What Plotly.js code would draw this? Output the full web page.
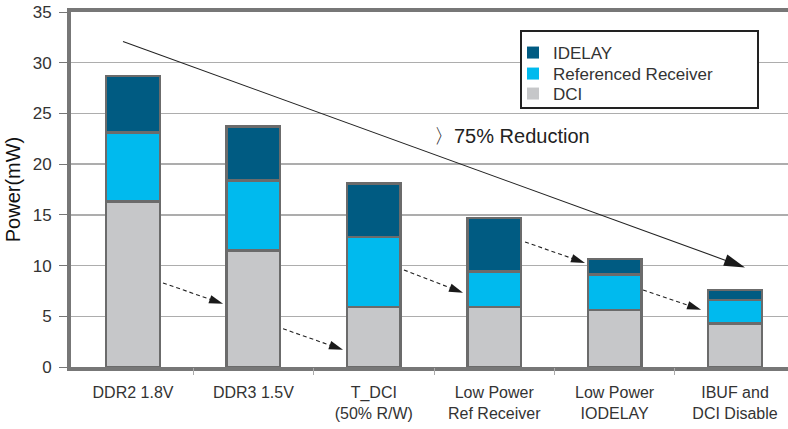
<!DOCTYPE html>
<html>
<head>
<meta charset="utf-8">
<script src="https://cdn.plot.ly/plotly-3.0.1.min.js"></script>
<style>html,body{margin:0;padding:0;background:#fff;}#chart{width:788px;height:429px;}</style>
</head>
<body>
<div id="chart"></div>
<script>
// ---- data ----
const categories = ["DDR2 1.8V", "DDR3 1.5V", "T_DCI<br>(50% R/W)", "Low Power<br>Ref Receiver", "Low Power<br>IODELAY", "IBUF and<br>DCI Disable"];
const dci      = [16.3, 11.5, 5.9, 5.9, 5.6, 4.3];
const refRecv  = [6.8, 6.9, 6.9, 3.5, 3.5, 2.3];
const idelay   = [5.6, 5.3, 5.3, 5.3, 1.55, 1.0];
const seriesNames = ["DCI", "Referenced Receiver", "IDELAY"];
const yTicks = [0, 5, 10, 15, 20, 25, 30, 35];
const noteText = "〉75% Reduction";
const noteAt = [3.15, 22.77];
// arrows: [x0, y0, x1, y1] in category-index / data units
const solidArrow = [-0.083, 32.1, 5.083, 9.82];
const dashedArrows = [
  [0.249, 8.29, 0.748, 6.23],
  [1.246, 3.77, 1.744, 1.70],
  [2.25, 9.57, 2.741, 7.31],
  [3.256, 12.33, 3.754, 10.26],
  [4.236, 7.60, 4.718, 5.64]
];

// ---- styles ----
const colors = ["#c6c7c9", "#00baee", "#005b82"];
const W = 788, H = 429;
const M = {l: 71, r: 0, t: 12, b: 62, pad: 0};
const PW = W - M.l - M.r, PH = H - M.t - M.b;
const xRange = [-0.515, 5.44], yRange = [0, 35];
const FONT = "Liberation Sans, Arial, sans-serif";

function pxX(xd) { return (xd - xRange[0]) / (xRange[1] - xRange[0]) * PW; }
function pxY(yd) { return (yd - yRange[0]) / (yRange[1] - yRange[0]) * PH; }

const shapes = [];
function addArrow(a, dashed, headLen, headHalf) {
  const x0 = pxX(a[0]), y0 = pxY(a[1]), x1 = pxX(a[2]), y1 = pxY(a[3]);
  const dx = x1 - x0, dy = y1 - y0, L = Math.hypot(dx, dy);
  const ux = dx / L, uy = dy / L, nx = -uy, ny = ux;
  const bx = x1 - ux * headLen, by = y1 - uy * headLen;
  shapes.push({type: "line", xref: "paper", yref: "paper",
    x0: x0 / PW, y0: y0 / PH, x1: (bx + ux * 2) / PW, y1: (by + uy * 2) / PH,
    line: {color: "#222", width: 1.1, dash: dashed ? "4px,3px" : "solid"}, layer: "above"});
  const p = [[x1, y1], [bx + nx * headHalf, by + ny * headHalf], [bx - nx * headHalf, by - ny * headHalf]];
  shapes.push({type: "path", xref: "paper", yref: "paper",
    path: "M" + p.map(q => (q[0] / PW).toFixed(5) + "," + (q[1] / PH).toFixed(5)).join("L") + "Z",
    fillcolor: "#1a1a1a", line: {width: 0}, layer: "above"});
}
addArrow(solidArrow, false, 21, 6);
dashedArrows.forEach(a => addArrow(a, true, 14, 4.3));

// legend frame
shapes.push({type: "rect", xref: "paper", yref: "paper",
  x0: (521 - M.l) / PW, x1: (758 - M.l) / PW, y0: (H - M.b - 108) / PH, y1: (H - M.b - 31) / PH,
  fillcolor: "#fff", line: {color: "#222", width: 2}, layer: "above"});

const vals = [dci, refRecv, idelay];
const legendIds = ["legend3", "legend2", "legend"];
const legendRowY = [94, 74, 53];
const traces = [];
vals.forEach((v, i) => {
  traces.push({type: "bar", x: categories, y: v, name: seriesNames[i], showlegend: false,
    width: 0.445, marker: {color: colors[i], line: {color: "#6b6b6b", width: 2.5}}, hoverinfo: "skip"});
});
vals.forEach((v, i) => {
  traces.push({type: "bar", x: [categories[0]], y: [null], name: seriesNames[i], showlegend: true,
    legend: legendIds[i], marker: {color: colors[i], line: {width: 0}}, hoverinfo: "skip"});
});
// empty helper trace so the tick-mark axis (x2) is drawn
traces.push({type: "scatter", x: [], y: [], xaxis: "x2", yaxis: "y", showlegend: false, hoverinfo: "skip"});

// category boundaries for the short tick marks
const boundaries = categories.slice(1).map((c, i) => i + 0.5);

const layout = {
  width: W, height: H, margin: M, barmode: "stack",
  paper_bgcolor: "#fff", plot_bgcolor: "#fff",
  font: {family: FONT, color: "#333", size: 16},
  showlegend: true,
  xaxis: {type: "category", range: xRange, showgrid: false, showline: true, linecolor: "#777", linewidth: 4,
    mirror: true, ticks: "outside", ticklen: 8, tickcolor: "rgba(0,0,0,0)",
    tickfont: {family: FONT, size: 16, color: "#333"}, zeroline: false, fixedrange: true},
  xaxis2: {overlaying: "x", anchor: "y", side: "bottom", type: "linear", range: xRange,
    tickmode: "array", tickvals: boundaries, showticklabels: false, ticks: "outside", ticklen: 7,
    tickcolor: "#aaa", tickwidth: 1, showgrid: false, showline: false, zeroline: false, fixedrange: true},
  yaxis: {range: yRange, tickvals: yTicks, showgrid: true, gridcolor: "#adadad", gridwidth: 1.5,
    showline: true, linecolor: "#777", linewidth: 4, ticks: "outside", ticklen: 8, tickcolor: "#777",
    tickwidth: 1, ticklabelstandoff: 4, zeroline: false,
    tickfont: {family: FONT, size: 17, color: "#333"},
    title: {text: "Power(mW)", font: {family: FONT, size: 20, color: "#111"}, standoff: 8}},
  shapes: shapes,
  annotations: [{x: noteAt[0], y: noteAt[1], xref: "x", yref: "y", text: noteText, showarrow: false,
    xanchor: "center", yanchor: "middle", font: {family: FONT, size: 20, color: "#222"}}]
};
legendIds.forEach((id, i) => {
  layout[id] = {x: (513 - M.l) / PW, y: (H - M.b - legendRowY[i]) / PH, xanchor: "left", yanchor: "middle",
    bgcolor: "rgba(0,0,0,0)", borderwidth: 0, font: {family: FONT, size: 17, color: "#333"}};
});

Plotly.newPlot("chart", traces, layout, {displayModeBar: false, staticPlot: true});
</script>
</body>
</html>
